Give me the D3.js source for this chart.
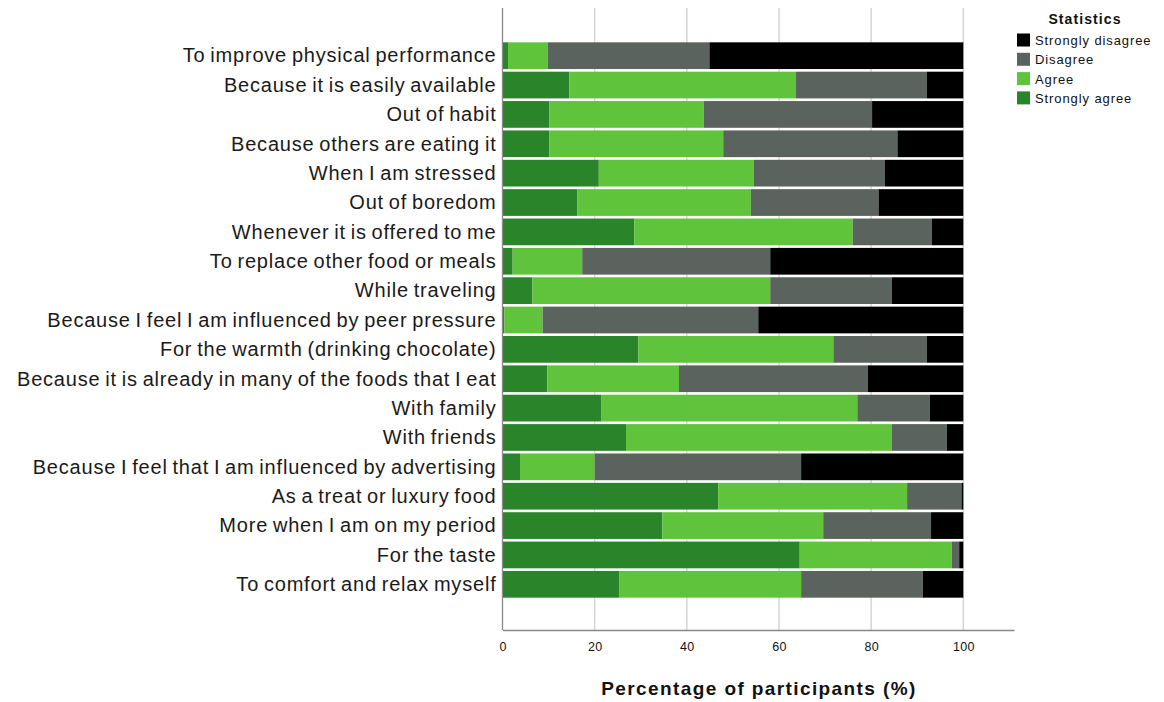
<!DOCTYPE html>
<html>
<head>
<meta charset="utf-8">
<script src="https://cdn.jsdelivr.net/npm/d3@7"></script>
<style>
  body { margin: 0; background: #fff; }
  svg text { font-family: "Liberation Sans", Arial, sans-serif; }
</style>
</head>
<body>
<div class="chart"></div>
<script>
// categories, top to bottom
var reasons = [
  "To improve physical performance",
  "Because it is easily available",
  "Out of habit",
  "Because others are eating it",
  "When I am stressed",
  "Out of boredom",
  "Whenever it is offered to me",
  "To replace other food or meals",
  "While traveling",
  "Because I feel I am influenced by peer pressure",
  "For the warmth (drinking chocolate)",
  "Because it is already in many of the foods that I eat",
  "With family",
  "With friends",
  "Because I feel that I am influenced by advertising",
  "As a treat or luxury food",
  "More when I am on my period",
  "For the taste",
  "To comfort and relax myself"
];

// percentages per response, same order as reasons
var stronglyAgree    = [1.2, 14.5, 10.2, 10.2, 20.9, 16.2, 28.6, 2.2, 6.5, 0.4, 29.5, 9.7, 21.5, 26.8, 3.8, 46.8, 34.7, 64.5, 25.3];
var agree            = [8.6, 49.2, 33.5, 37.7, 33.6, 37.7, 47.4, 15.1, 51.6, 8.3, 42.3, 28.6, 55.5, 57.7, 16.2, 41.0, 34.9, 33.0, 39.5];
var disagree         = [35.1, 28.4, 36.5, 37.8, 28.5, 27.7, 17.2, 40.8, 26.4, 46.8, 20.3, 41.0, 15.7, 11.9, 44.8, 11.8, 23.4, 1.6, 26.4];
var stronglyDisagree = [55.1, 7.9, 19.8, 14.3, 17.0, 18.4, 6.8, 41.9, 15.5, 44.5, 7.9, 20.7, 7.3, 3.6, 35.2, 0.4, 7.0, 0.9, 8.8];

var xTicks = [0, 20, 40, 60, 80, 100];

var keys = ["Strongly agree", "Agree", "Disagree", "Strongly disagree"];
var legendKeys = ["Strongly disagree", "Disagree", "Agree", "Strongly agree"];
var colors = {
  "Strongly agree": "#2a842a",
  "Agree": "#5fc43b",
  "Disagree": "#5b635e",
  "Strongly disagree": "#000000"
};

var svgWidth = 1164;
var svgHeight = 702;

var rows = reasons.map(function (r, i) {
  return {
    reason: r,
    "Strongly agree": stronglyAgree[i],
    "Agree": agree[i],
    "Disagree": disagree[i],
    "Strongly disagree": stronglyDisagree[i]
  };
});

var svg = d3.select(".chart")
  .append("svg")
  .attr("width", svgWidth)
  .attr("height", svgHeight);

var plotTop = 8, plotBottom = 630;

var xScale = d3.scaleLinear()
  .domain([0, 111])
  .range([502.5, 1014]);

var yScale = d3.scaleBand()
  .domain(reasons)
  .range([41, 599])
  .paddingInner(0.09)
  .paddingOuter(0.045);

// gridlines
svg.append("g")
  .selectAll("line")
  .data(xTicks.slice(1))
  .enter()
  .append("line")
  .attr("x1", d => xScale(d))
  .attr("x2", d => xScale(d))
  .attr("y1", plotTop)
  .attr("y2", plotBottom)
  .attr("stroke", "#d6d6d6")
  .attr("stroke-width", 1.5);

var stacked = d3.stack().keys(keys)(rows);

svg.append("g")
  .selectAll("g")
  .data(stacked)
  .enter()
  .append("g")
  .attr("fill", d => colors[d.key])
  .selectAll("rect")
  .data(d => d)
  .enter()
  .append("rect")
  .attr("x", d => xScale(d[0]))
  .attr("width", d => xScale(d[1]) - xScale(d[0]))
  .attr("y", d => yScale(d.data.reason))
  .attr("height", yScale.bandwidth());

// x axis
var bottomAxis = d3.axisBottom(xScale)
  .tickValues(xTicks)
  .tickSize(0)
  .tickPadding(12);

var xAxisG = svg.append("g")
  .attr("transform", `translate(0, ${plotBottom})`)
  .call(bottomAxis);
xAxisG.select(".domain").attr("stroke", "#888").attr("stroke-width", 1.3);
xAxisG.selectAll("text")
  .attr("font-size", 12.5)
  .attr("fill", "#111")
  .style("letter-spacing", "0.3px")
  .style("font-family", "'Liberation Sans', Arial, sans-serif");

// y axis
var leftAxis = d3.axisLeft(yScale).tickSize(0).tickPadding(6);
var yAxisG = svg.append("g")
  .attr("transform", `translate(${xScale(0)}, 0)`)
  .call(leftAxis);
yAxisG.select(".domain").remove();
yAxisG.selectAll("text")
  .attr("font-size", 20)
  .attr("fill", "#1a1a1a")
  .attr("dy", "0.34em")
  .style("letter-spacing", "0.8px")
  .style("word-spacing", "-1.5px")
  .style("font-family", "'Liberation Sans', Arial, sans-serif");

svg.append("line")
  .attr("x1", xScale(0))
  .attr("x2", xScale(0))
  .attr("y1", plotTop)
  .attr("y2", plotBottom)
  .attr("stroke", "#888")
  .attr("stroke-width", 1.3);

// axis title
svg.append("text")
  .attr("x", 759)
  .attr("y", 695)
  .attr("text-anchor", "middle")
  .attr("font-size", 19)
  .attr("font-weight", "bold")
  .attr("fill", "#111")
  .style("letter-spacing", "1.4px")
  .text("Percentage of participants (%)");

// legend
var legend = svg.append("g").attr("transform", "translate(1017, 0)");
legend.append("text")
  .attr("x", 68)
  .attr("y", 24)
  .attr("text-anchor", "middle")
  .attr("font-size", 14)
  .attr("font-weight", "bold")
  .attr("fill", "#111")
  .style("letter-spacing", "1.1px")
  .text("Statistics");

var items = legend.selectAll(".item")
  .data(legendKeys)
  .enter()
  .append("g")
  .attr("class", "item")
  .attr("transform", (d, i) => `translate(0, ${33.5 + i * 19.3})`);

items.append("rect")
  .attr("width", 13)
  .attr("height", 13)
  .attr("fill", d => colors[d]);

items.append("text")
  .attr("x", 18)
  .attr("y", 11.5)
  .attr("font-size", 13)
  .attr("fill", "#111")
  .style("letter-spacing", "0.9px")
  .text(d => d);
</script>
</body>
</html>
